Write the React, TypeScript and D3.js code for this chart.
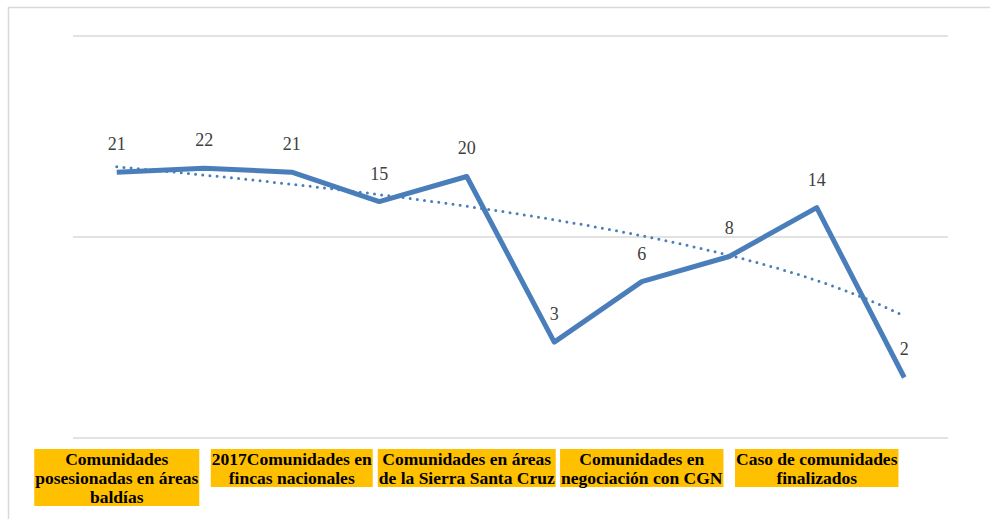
import React from "react";
import * as d3 from "d3";

const categories: string[][] = [
  ["Comunidades", "posesionadas en áreas", "baldías"],
  [],
  ["2017Comunidades en", "fincas nacionales"],
  [],
  ["Comunidades en áreas", "de la Sierra Santa Cruz"],
  [],
  ["Comunidades en", "negociación con CGN"],
  [],
  ["Caso de comunidades", "finalizados"],
  [],
];
const values: number[] = [21, 22, 21, 15, 20, 3, 6, 8, 14, 2];
const yTicks: number[] = [1, 10, 100];

const W = 990;
const H = 519;
const LINE = "#4a7ebb";
const LABEL_SIZE = 17.5;
const LABEL_FONT = `bold ${LABEL_SIZE}px 'Liberation Serif'`;

function measure(text: string, font: string): number {
  const c = document.createElement("canvas");
  const ctx = c.getContext("2d")!;
  ctx.font = font;
  return ctx.measureText(text).width;
}

export default function App() {
  const idx = values.map((_, i) => i);
  const x = d3.scalePoint<number>().domain(idx).range([73, 948]).padding(0.5);
  const y = d3.scaleLog().domain([1, 100]).range([438, 36]);

  // linear trendline (least squares on values vs index)
  const n = values.length;
  const mx = d3.mean(idx)!;
  const my = d3.mean(values)!;
  const sxy = d3.sum(idx, (i) => (i - mx) * (values[i] - my));
  const sxx = d3.sum(idx, (i) => (i - mx) * (i - mx));
  const slope = sxy / sxx;
  const intercept = my - slope * mx;
  const trendPts = d3.range(0, n - 1 + 0.001, 0.1).map((t) => [t, intercept + slope * t]);
  const xLin = d3.scaleLinear().domain([0, n - 1]).range([x(0)!, x(n - 1)!]);

  const line = d3
    .line<number>()
    .x((i) => x(i)!)
    .y((i) => y(values[i]));
  const trend = d3
    .line<number[]>()
    .x((d) => xLin(d[0]))
    .y((d) => y(d[1]));

  return (
    <div style={{ position: "fixed", left: 0, top: 0, width: W, height: H, background: "#fff" }}>
      <svg width={W} height={H} style={{ display: "block" }}>
        <rect x={8.5} y={7.5} width={W} height={H} fill="#fff" stroke="#d9d9d9" strokeWidth={1.5} />
        {yTicks.map((t) => (
          <line key={t} x1={73} x2={948} y1={y(t)} y2={y(t)} stroke="#d9d9d9" strokeWidth={1.5} />
        ))}
        <path
          d={trend(trendPts) || ""}
          fill="none"
          stroke={LINE}
          strokeWidth={3}
          strokeLinecap="round"
          strokeDasharray="0 7.2"
        />
        <path d={line(idx) || ""} fill="none" stroke={LINE} strokeWidth={5} strokeLinejoin="round" />
        {idx.map((i) => (
          <text
            key={i}
            x={x(i)!}
            y={y(values[i]) - 22}
            textAnchor="middle"
            fontFamily="'Liberation Serif'"
            fontSize={18}
            fill="#404040"
          >
            {values[i]}
          </text>
        ))}
        {categories.map((lines, i) => {
          if (!lines.length) return null;
          const cx = x(i)!;
          const w = Math.max(...lines.map((l) => measure(l, LABEL_FONT)));
          const top = 449;
          return (
            <g key={i}>
              <rect x={cx - w / 2 - 1} y={top} width={w + 2} height={lines.length * 19} fill="#ffc000" />
              {lines.map((l, k) => (
                <text
                  key={k}
                  x={cx}
                  y={top + 15.5 + k * 19}
                  textAnchor="middle"
                  fontFamily="'Liberation Serif'"
                  fontWeight="bold"
                  fontSize={LABEL_SIZE}
                  fill="#000"
                >
                  {l}
                </text>
              ))}
            </g>
          );
        })}
      </svg>
    </div>
  );
}
